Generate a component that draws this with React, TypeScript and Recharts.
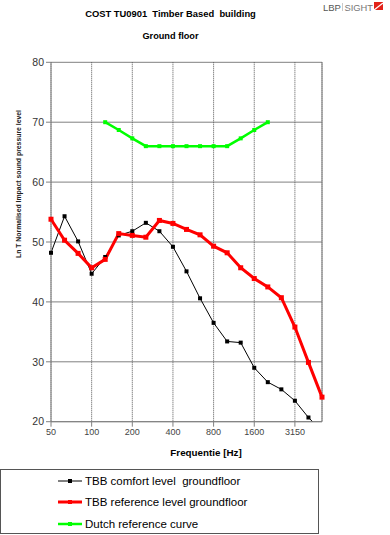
import React from 'react';
import { LineChart, Line, XAxis, YAxis, CartesianGrid, ReferenceLine } from 'recharts';

const freqs = [50, 63, 80, 100, 125, 160, 200, 250, 315, 400, 500, 630, 800, 1000, 1250, 1600, 2000, 2500, 3150, 4000, 5000];
const xTickLabels = ['50', '100', '200', '400', '800', '1600', '3150'];
const comfort = [48.2, 54.3, 50.1, 44.7, 47.5, 51.1, 51.8, 53.2, 51.8, 49.2, 45.1, 40.6, 36.5, 33.4, 33.2, 29.0, 26.6, 25.4, 23.5, 20.7, 18.4];
const reference = [53.8, 50.3, 48.1, 45.7, 47.1, 51.4, 51.1, 50.8, 53.6, 53.1, 52.1, 51.2, 49.3, 48.2, 45.7, 43.9, 42.5, 40.7, 35.8, 29.9, 24.1];
const dutch = [null, null, null, null, 70, 68.7, 67.3, 66, 66, 66, 66, 66, 66, 66, 67.3, 68.7, 70, null, null, null, null];
const yTicks = [20, 30, 40, 50, 60, 70, 80];

const seriesNames = ['TBB comfort level  groundfloor', 'TBB reference level groundfloor', 'Dutch reference curve'];
const seriesColors = ['#000000', '#ff0000', '#00ff00'];

const xTickIdx = xTickLabels.map((l) => freqs.indexOf(Number(l)));

const squareDot = (size: number, color: string) => (props: any) => {
  const { cx, cy, index, value } = props;
  if (cx == null || cy == null || value == null || isNaN(cy)) return <g key={'d' + index} />;
  return <rect key={'d' + index} x={cx - size / 2} y={cy - size / 2} width={size} height={size} fill={color} />;
};

export default function App() {
  const data = freqs.map((f, i) => ({ i, freq: f, comfort: comfort[i], reference: reference[i], dutch: dutch[i] }));
  const font = 'Arial, "Liberation Sans", sans-serif';
  return (
    <div style={{ position: 'absolute', left: 0, top: 0, width: 390, height: 535, background: '#fff', fontFamily: font }}>
      <LineChart width={390} height={535} data={data} margin={{ top: 62.3, right: 68, bottom: 83.3, left: 11 }} style={{ fontFamily: font }}>
        <CartesianGrid horizontal vertical={false} stroke="#808080" strokeWidth={1} />
        <CartesianGrid horizontal={false} vertical stroke="#555" strokeDasharray="1 1" />
        <XAxis
          dataKey="i"
          type="number"
          domain={[0, 20]}
          ticks={xTickIdx}
          tickFormatter={(v: number) => String(freqs[v])}
          height={30}
          tickSize={5}
          stroke="#808080"
          tick={{ fontSize: 9, fill: '#444' }}
          interval={0}
        />
        <YAxis
          domain={[20, 80]}
          ticks={yTicks}
          width={40}
          allowDataOverflow
          tickSize={5}
          stroke="#808080"
          tick={{ fontSize: 10.5, fill: '#333' }}
          interval={0}
        />
        <ReferenceLine x={20} stroke="#808080" />
        <Line dataKey="comfort" stroke={seriesColors[0]} strokeWidth={1} dot={squareDot(4, seriesColors[0])} isAnimationActive={false} />
        <Line dataKey="reference" stroke={seriesColors[1]} strokeWidth={3} dot={squareDot(5, seriesColors[1])} isAnimationActive={false} />
        <Line dataKey="dutch" stroke={seriesColors[2]} strokeWidth={2.5} dot={squareDot(4, seriesColors[2])} isAnimationActive={false} connectNulls={false} />
      </LineChart>
      <svg width={390} height={535} style={{ position: 'absolute', left: 0, top: 0, pointerEvents: 'none', fontFamily: font }}>
        <text x={170.5} y={16.5} textAnchor="middle" fontSize={9.4} fontWeight="bold" fill="#000" style={{ whiteSpace: 'pre' }}>
          COST TU0901  Timber Based  building
        </text>
        <text x={170.5} y={38.5} textAnchor="middle" fontSize={9.2} fontWeight="bold" fill="#000">
          Ground floor
        </text>
        <text x={323} y={10.5} fontSize={9.5} fill="#555">LBP</text>
        <line x1={342.5} y1={3} x2={342.5} y2={11} stroke="#bbb" strokeWidth={0.8} />
        <text x={344.5} y={10.5} fontSize={9.5} fill="#777" textLength={28.5} lengthAdjust="spacingAndGlyphs">SIGHT</text>
        <rect x={374} y={2} width={9} height={8} fill="#e2231a" />
        <line x1={374} y1={10} x2={383} y2={3} stroke="#fff" strokeWidth={1.2} />
        <text
          transform="translate(21,184) rotate(-90)"
          textAnchor="middle"
          fontSize={8}
          fontWeight="bold"
          fill="#222"
          textLength={148}
          lengthAdjust="spacingAndGlyphs"
        >
          Ln T Normalised Impact sound pressure level
        </text>
        <text x={206} y={455.5} textAnchor="middle" fontSize={9.8} fontWeight="bold" fill="#000">
          Frequentie [Hz]
        </text>
        <rect x={0.5} y={469.5} width={318} height={64} fill="#fff" stroke="#555" strokeWidth={1} />
        {seriesNames.map((name, k) => {
          const cy = [481, 502, 524][k];
          const w = [1, 3, 2.5][k];
          return (
            <g key={name}>
              <line x1={58} y1={cy} x2={82} y2={cy} stroke={seriesColors[k]} strokeWidth={w} />
              <rect x={68} y={cy - 2} width={4} height={4} fill={seriesColors[k]} />
              <text x={85} y={cy + 4} fontSize={11.5} fill="#000" style={{ whiteSpace: 'pre' }}>
                {name}
              </text>
            </g>
          );
        })}
      </svg>
    </div>
  );
}
